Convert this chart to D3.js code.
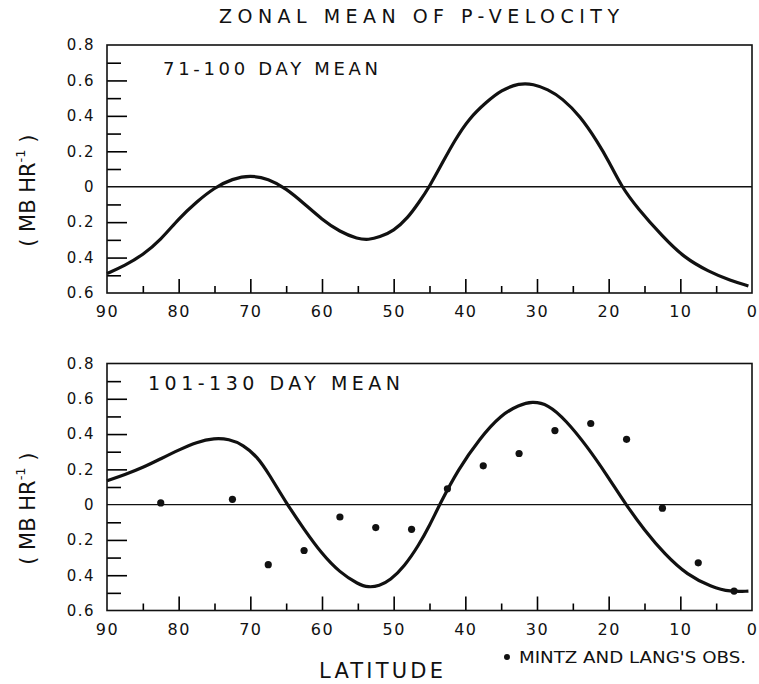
<!DOCTYPE html>
<html>
<head>
<meta charset="utf-8">
<script src="https://cdn.jsdelivr.net/npm/d3@7"></script>
<style>
  body { margin: 0; background: #fff; }
  text { font-family: "DejaVu Sans", sans-serif; fill: #111; }
</style>
</head>
<body>
<svg id="chart" width="759" height="684"></svg>
<script>
// latitude / value pairs
const topLat = [90,87.5,85,82.5,80,77.5,75,72.5,70,67.5,65,62.5,60,57.5,55,53.5,52,50,48,46.5,45,43,41.5,39.5,37,35,32.5,30.5,28.5,26.5,24,21.5,20,18.2,16,12.5,9.5,6,3,0.5];
const topVal = [-0.49,-0.445,-0.385,-0.30,-0.18,-0.085,-0.005,0.045,0.065,0.045,-0.01,-0.095,-0.185,-0.255,-0.295,-0.30,-0.285,-0.25,-0.175,-0.09,0.0,0.15,0.26,0.385,0.48,0.545,0.585,0.58,0.55,0.50,0.40,0.25,0.145,0.0,-0.12,-0.28,-0.40,-0.48,-0.53,-0.56];

const botLat = [90,87.5,85,82.5,80,77.5,75,73,71,69,67.5,65,62.5,60,57.5,55,53.5,52,50.5,48.5,46.5,45,43.6,41,38,35,32.5,30.7,28.5,26,23,20.2,17.6,15,12.2,9,5.7,3,0.5];
const botVal = [0.135,0.17,0.21,0.26,0.31,0.355,0.378,0.372,0.34,0.27,0.18,0.01,-0.14,-0.28,-0.385,-0.45,-0.47,-0.46,-0.43,-0.35,-0.23,-0.12,0.0,0.2,0.375,0.51,0.565,0.585,0.57,0.48,0.33,0.165,0.0,-0.145,-0.28,-0.40,-0.465,-0.495,-0.49];

// Mintz and Lang's observations
const obsLat = [82.5,72.5,67.5,62.5,57.5,52.5,47.5,42.5,37.5,32.5,27.5,22.5,17.5,12.5,7.5,2.5];
const obsVal = [0.01,0.03,-0.34,-0.26,-0.07,-0.13,-0.14,0.09,0.22,0.29,0.42,0.46,0.37,-0.02,-0.33,-0.49];

const yLabels = [0.8,0.6,0.4,0.2,0,-0.2,-0.4,-0.6];
const yMajor = [0.6,0.4,0.2,-0.2,-0.4];
const yMinor = [0.7,0.5,0.3,0.1,-0.1,-0.3,-0.5];
const xLabels = [90,80,70,60,50,40,30,20,10,0];
const xMajor = [80,70,60,50,40,30,20,10];
const xMinor = [85,75,65,55,45,35,25,15,5];

const svg = d3.select("#chart");

let x = d3.scaleLinear().domain([90, 0]).range([107, 752]);

svg.append("text")
    .attr("x", 419).attr("y", 23)
    .attr("text-anchor", "middle")
    .attr("textLength", 400).attr("lengthAdjust", "spacing")
    .style("font-size", "19px")
    .text("ZONAL MEAN OF P-VELOCITY");

function drawPanel(cfg) {
    let y = d3.scaleLinear().domain([-0.6, 0.8]).range([cfg.bottom, cfg.top]);
    let g = svg.append("g");
    let x0 = x.range()[0], x1 = x.range()[1];

    // tick labels, no sign below zero as in the original
    g.append("g")
        .attr("transform", `translate(${x0},0)`)
        .call(d3.axisLeft(y).tickValues(yLabels).tickSize(0).tickPadding(12)
            .tickFormat(d => d === 0 ? "0" : Math.abs(d).toFixed(1)))
        .call(a => a.select(".domain").remove())
        .selectAll("text")
        .style("font-size", "15px")
        .style("letter-spacing", "1.5px");

    g.append("g")
        .attr("transform", `translate(0,${cfg.bottom})`)
        .call(d3.axisBottom(x).tickValues(xLabels).tickSize(0).tickPadding(13)
            .tickFormat(d => d))
        .call(a => a.select(".domain").remove())
        .selectAll("text")
        .style("font-size", "16px")
        .style("letter-spacing", "1.5px");

    // inward ticks
    [[yMajor, 20], [yMinor, 14]].forEach(([vals, len]) => {
        g.append("g")
            .attr("transform", `translate(${x0},0)`)
            .call(d3.axisRight(y).tickValues(vals).tickSize(len).tickFormat(""))
            .call(a => a.select(".domain").remove())
            .selectAll("line").attr("stroke-width", 1.6);
    });
    [[xMajor, 14], [xMinor, 7]].forEach(([vals, len]) => {
        g.append("g")
            .attr("transform", `translate(0,${cfg.bottom})`)
            .call(d3.axisTop(x).tickValues(vals).tickSize(len).tickFormat(""))
            .call(a => a.select(".domain").remove())
            .selectAll("line").attr("stroke-width", 1.6);
    });

    g.append("rect")
        .attr("x", x0).attr("y", cfg.top)
        .attr("width", x1 - x0).attr("height", cfg.bottom - cfg.top)
        .attr("fill", "none").attr("stroke", "#111").attr("stroke-width", 1.6);

    g.append("line")
        .attr("x1", x0).attr("x2", x1)
        .attr("y1", y(0)).attr("y2", y(0))
        .attr("stroke", "#111").attr("stroke-width", 1.4);

    let line = d3.line()
        .x(d => x(d[0]))
        .y(d => y(d[1]))
        .curve(d3.curveBasis);

    g.append("path")
        .datum(d3.zip(cfg.lat, cfg.val))
        .attr("d", line)
        .attr("fill", "none")
        .attr("stroke", "#111")
        .attr("stroke-width", 3.2);

    if (cfg.obsLat) {
        g.selectAll("circle")
            .data(d3.zip(cfg.obsLat, cfg.obsVal))
            .enter()
            .append("circle")
            .attr("cx", d => x(d[0]))
            .attr("cy", d => y(d[1]))
            .attr("r", 3.6)
            .attr("fill", "#111");
    }

    g.append("text")
        .attr("x", cfg.labelX).attr("y", cfg.labelY)
        .attr("textLength", cfg.labelW).attr("lengthAdjust", "spacing")
        .style("font-size", cfg.labelSize)
        .text(cfg.label);

    let yl = g.append("text")
        .attr("transform", `translate(35,${y(0) + 4}) rotate(-90)`)
        .attr("text-anchor", "middle")
        .style("font-size", "21px");
    yl.append("tspan").text("( MB HR");
    yl.append("tspan").attr("dy", -10).style("font-size", "13px").text("-1");
    yl.append("tspan").attr("dy", 10).text(" )");
}

drawPanel({ top: 45, bottom: 293, lat: topLat, val: topVal,
    label: "71-100 DAY MEAN", labelX: 163, labelY: 75, labelW: 215, labelSize: "18px" });

drawPanel({ top: 363.5, bottom: 610.5, lat: botLat, val: botVal,
    obsLat: obsLat, obsVal: obsVal,
    label: "101-130 DAY MEAN", labelX: 148, labelY: 390, labelW: 252, labelSize: "19px" });

svg.append("text")
    .attr("x", 319).attr("y", 678)
    .attr("textLength", 124).attr("lengthAdjust", "spacing")
    .style("font-size", "21px")
    .text("LATITUDE");

svg.append("circle")
    .attr("cx", 507).attr("cy", 657).attr("r", 3)
    .attr("fill", "#111");
svg.append("text")
    .attr("x", 519).attr("y", 663)
    .attr("textLength", 227).attr("lengthAdjust", "spacingAndGlyphs")
    .style("font-size", "16px")
    .text("MINTZ AND LANG'S OBS.");
</script>
</body>
</html>
